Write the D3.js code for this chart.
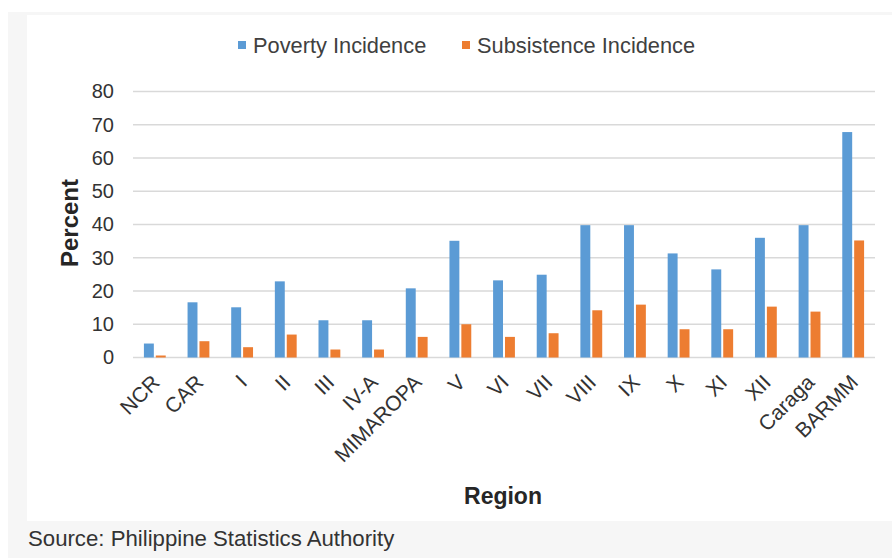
<!DOCTYPE html>
<html>
<head>
<meta charset="utf-8">
<script src="https://cdn.jsdelivr.net/npm/d3@7"></script>
<style>
  html, body { margin: 0; padding: 0; background: #ffffff; }
  svg { display: block; font-family: "Liberation Sans", Arial, sans-serif; }
</style>
</head>
<body>
<svg id="chart" width="892" height="558"></svg>
<script>
const regions = ["NCR","CAR","I","II","III","IV-A","MIMAROPA","V","VI","VII","VIII","IX","X","XI","XII","Caraga","BARMM"];
const povertyIncidence = [4.2,16.6,15.1,22.9,11.2,11.2,20.8,35.1,23.2,24.9,39.8,39.8,31.3,26.5,36.0,39.8,67.8];
const subsistenceIncidence = [0.6,4.9,3.1,6.9,2.4,2.4,6.2,10.0,6.2,7.3,14.2,15.9,8.5,8.5,15.3,13.8,35.2];
const seriesNames = ["Poverty Incidence","Subsistence Incidence"];
const seriesColors = ["#5b9bd5","#ed7d31"];
const yTicks = [0,10,20,30,40,50,60,70,80];

const svg = d3.select("#chart");
const W = 892, H = 558;

// backgrounds
svg.append("rect").attr("x",8).attr("y",12).attr("width",W-8).attr("height",H-12).attr("fill","#f6f6f6");
svg.append("rect").attr("x",27).attr("y",15).attr("width",W-27).attr("height",506).attr("fill","#ffffff");

const m = {left:133, right:875, top:91.5, bottom:357.5};

const x0 = d3.scaleBand().domain(regions).range([m.left, m.right]).paddingInner(0.5).paddingOuter(0.25);
const x1 = d3.scaleBand().domain(seriesNames).range([0, x0.bandwidth()]).paddingInner(0.167);
const y = d3.scaleLinear().domain([0,80]).range([m.bottom, m.top]);

// gridlines
svg.append("g").selectAll("line").data(yTicks).join("line")
  .attr("x1", m.left).attr("x2", m.right)
  .attr("y1", d => y(d)).attr("y2", d => y(d))
  .attr("stroke", "#d9d9d9").attr("stroke-width", 1.4);

// y axis labels
const yAxis = d3.axisLeft(y).tickValues(yTicks).tickSize(0).tickPadding(0);
const yg = svg.append("g").attr("transform", `translate(${m.left-19},0)`).call(yAxis);
yg.select(".domain").remove();
yg.selectAll("text").attr("font-size", "20px").attr("fill", "#333").attr("font-family","Liberation Sans, Arial, sans-serif");

// bars
const data = regions.map((r,i) => ({region:r, values:[povertyIncidence[i], subsistenceIncidence[i]]}));
const groups = svg.append("g").selectAll("g").data(data).join("g")
  .attr("transform", d => `translate(${x0(d.region)},0)`);
groups.selectAll("rect").data(d => d.values.map((v,k) => ({k, v}))).join("rect")
  .attr("x", d => x1(seriesNames[d.k]))
  .attr("width", x1.bandwidth())
  .attr("y", d => y(d.v))
  .attr("height", d => y(0) - y(d.v))
  .attr("fill", d => seriesColors[d.k]);

// x axis labels
const xAxis = d3.axisBottom(x0).tickSize(0).tickPadding(0);
const xg = svg.append("g").attr("transform", `translate(0,${m.bottom})`).call(xAxis);
xg.select(".domain").remove();
xg.selectAll("text")
  .attr("font-size", "21px").attr("fill", "#333")
  .attr("font-family","Liberation Sans, Arial, sans-serif")
  .attr("text-anchor", "end")
  .attr("dy", "0.35em")
  .attr("transform", "translate(1,21) rotate(-45)");

// axis titles
svg.append("text").attr("x", 503).attr("y", 504).attr("text-anchor","middle")
  .attr("font-size","23px").attr("font-weight","bold").attr("fill","#262626").text("Region");
svg.append("text").attr("transform","translate(78,223) rotate(-90)").attr("text-anchor","middle")
  .attr("font-size","24px").attr("font-weight","bold").attr("fill","#262626").text("Percent");

// legend
const legendX = [238, 462];
const lg = svg.append("g").selectAll("g").data(seriesNames).join("g")
  .attr("transform", (d,i) => `translate(${legendX[i]},41)`);
lg.append("rect").attr("width",8).attr("height",8).attr("fill",(d,i)=>seriesColors[i]);
lg.append("text").attr("x",15).attr("y",4).attr("dy","0.35em")
  .attr("font-size","21.8px").attr("fill","#404040").text(d => d);

// source
svg.append("text").attr("x",28).attr("y",546).attr("font-size","22.2px").attr("fill","#333")
  .text("Source: Philippine Statistics Authority");
</script>
</body>
</html>
